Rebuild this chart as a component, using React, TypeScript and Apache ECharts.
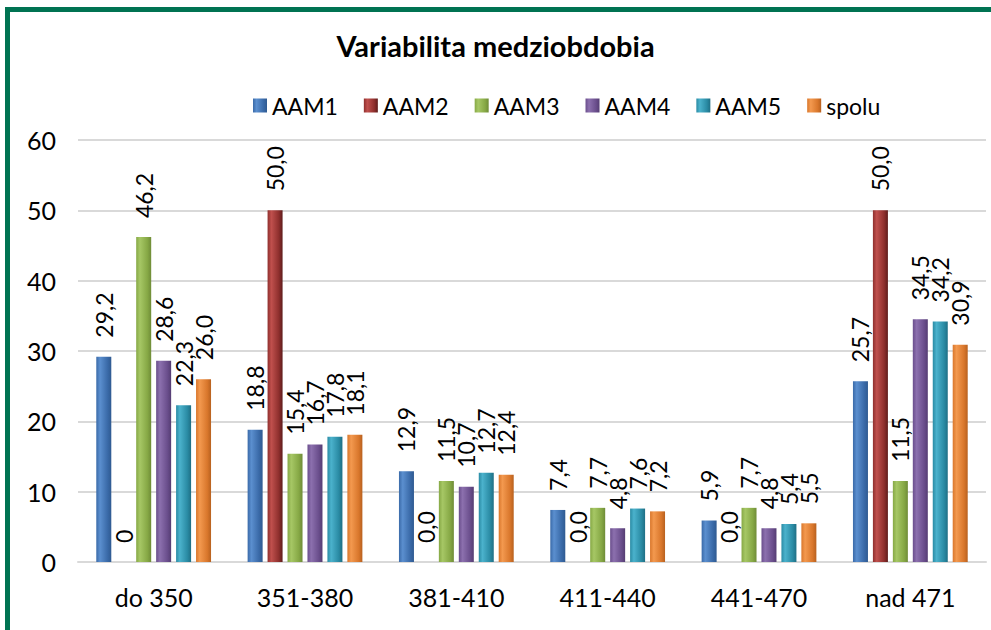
import React, { useEffect, useRef } from "react";
import * as echarts from "echarts";

const categories = ["do 350", "351-380", "381-410", "411-440", "441-470", "nad 471"];
const seriesNames = ["AAM1", "AAM2", "AAM3", "AAM4", "AAM5", "spolu"];
const aam1 = [29.2, 18.8, 12.9, 7.4, 5.9, 25.7];
const aam2 = [0, 50.0, 0.0, 0.0, 0.0, 50.0];
const aam3 = [46.2, 15.4, 11.5, 7.7, 7.7, 11.5];
const aam4 = [28.6, 16.7, 10.7, 4.8, 4.8, 34.5];
const aam5 = [22.3, 17.8, 12.7, 7.6, 5.4, 34.2];
const spolu = [26.0, 18.1, 12.4, 7.2, 5.5, 30.9];
// label overrides (the first AAM2 label is shown as "0")
const aam2Labels = ["0", null, null, null, null, null];
const yTicks = { min: 0, max: 60, interval: 10 };

const seriesData = [aam1, aam2, aam3, aam4, aam5, spolu];
const labelOverrides: (string | null)[][] = [[], aam2Labels, [], [], [], []];

const palette = [
  ["#3a6aa8", "#5b8fcf", "#2f5a91"],
  ["#8e2f2d", "#c0504d", "#5e1c1b"],
  ["#86a845", "#a6c765", "#6f8c37"],
  ["#6a4e8c", "#8c70ae", "#553d73"],
  ["#2a8ba4", "#4bb2cc", "#1f6f85"],
  ["#d9772c", "#f3994f", "#b8611f"],
];

const FONT = "Lato, 'Open Sans', sans-serif";

export default function App() {
  const ref = useRef<HTMLDivElement>(null);
  useEffect(() => {
    if (!ref.current) return;
    const chart = echarts.init(ref.current, null, { renderer: "svg" });
    const series = seriesNames.map((name, si) => {
      const [mid, light, dark] = palette[si];
      return {
        name,
        type: "bar",
        data: seriesData[si],
        barWidth: 15,
        barGap: "33%",
        itemStyle: {
          color: new echarts.graphic.LinearGradient(0, 0, 1, 0, [
            { offset: 0, color: mid },
            { offset: 0.25, color: light },
            { offset: 0.75, color: mid },
            { offset: 1, color: dark },
          ]),
        },
        label: {
          show: true,
          position: "top",
          rotate: 90,
          align: "left",
          verticalAlign: "middle",
          distance: 19,
          fontFamily: FONT,
          fontSize: 23,
          color: "#000",
          formatter: (p: any) => {
            const o = labelOverrides[si][p.dataIndex];
            if (o) return o;
            return Number(p.value).toFixed(1).replace(".", ",");
          },
        },
      };
    });
    chart.setOption({
      animation: false,
      backgroundColor: "#fff",
      title: {
        text: "Variabilita medziobdobia",
        left: "center",
        top: 26,
        textStyle: { fontFamily: FONT, fontSize: 29, fontWeight: "bold", color: "#000" },
      },
      legend: {
        top: 89,
        left: 248,
        itemWidth: 14,
        itemHeight: 14,
        itemGap: 26,
        icon: "rect",
        textStyle: { fontFamily: FONT, fontSize: 23, color: "#000" },
        data: seriesNames,
      },
      grid: { left: 78, right: 5, top: 140, bottom: 68, containLabel: false },
      xAxis: {
        type: "category",
        data: categories,
        axisLine: { lineStyle: { color: "#d9d9d9", width: 2 } },
        axisTick: { show: false },
        axisLabel: { fontFamily: FONT, fontSize: 25, color: "#000", margin: 22 },
      },
      yAxis: {
        type: "value",
        min: yTicks.min,
        max: yTicks.max,
        interval: yTicks.interval,
        axisLine: { show: false },
        axisTick: { show: false },
        splitLine: { lineStyle: { color: "#d9d9d9", width: 2 } },
        axisLabel: { fontFamily: FONT, fontSize: 25, color: "#000", margin: 22 },
      },
      graphic: [
        {
          type: "rect",
          silent: true,
          z: 100,
          shape: { x: 7.5, y: 9.5, width: 1100, height: 800 },
          style: { fill: "none", stroke: "#007352", lineWidth: 5 },
        },
      ],
      series,
    });
    return () => chart.dispose();
  }, []);
  return (
    <div
      ref={ref}
      style={{ position: "absolute", left: 0, top: 0, width: 991, height: 630 }}
    />
  );
}
